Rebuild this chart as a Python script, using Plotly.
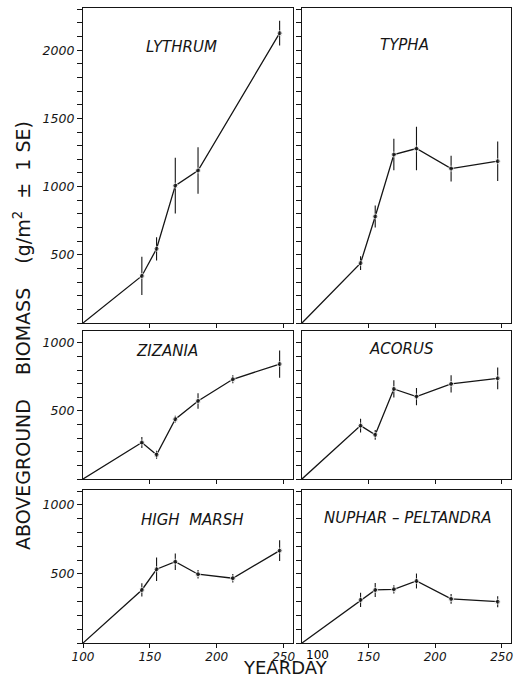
import plotly.graph_objects as go

W, H = 515, 680

# ---------------- data ----------------
days6 = [100, 144, 155, 169, 186, 212, 247]
days5 = [100, 144, 155, 169, 186, 247]

lythrum = [0, 345, 544, 1007, 1118, 2125]
lythrum_se = [0, 140, 85, 205, 170, 90]

typha = [0, 439, 781, 1235, 1279, 1132, 1186]
typha_se = [0, 50, 80, 115, 160, 95, 145]

zizania = [0, 268, 178, 439, 573, 732, 844]
zizania_se = [0, 40, 30, 25, 57, 30, 100]

acorus = [0, 392, 324, 661, 605, 698, 739]
acorus_se = [0, 50, 35, 63, 63, 63, 80]

high_marsh = [0, 384, 534, 589, 498, 469, 669]
high_marsh_se = [0, 48, 85, 60, 30, 30, 76]

nuphar = [0, 312, 384, 389, 449, 319, 299]
nuphar_se = [0, 52, 50, 30, 54, 35, 40]

panel_titles = ["LYTHRUM", "TYPHA", "ZIZANIA", "ACORUS",
                "HIGH\u00a0\u00a0MARSH", "NUPHAR\u00a0\u2013\u00a0PELTANDRA"]
x_tickvals_left = [100, 150, 200, 250]
x_ticktext_left = ["100", "150", "200", "250"]
x_tickvals_right = [150, 200, 250]
x_ticktext_right = ["150", "200", "250"]
x_start_text = "100"
y_tickvals_top = [500, 1000, 1500, 2000]
y_ticktext_top = ["500", "1000", "1500", "2000"]
y_tickvals_low = [500, 1000]
y_ticktext_low = ["500", "1000"]

series = [
    (days5, lythrum, lythrum_se),
    (days6, typha, typha_se),
    (days6, zizania, zizania_se),
    (days6, acorus, acorus_se),
    (days6, high_marsh, high_marsh_se),
    (days6, nuphar, nuphar_se),
]

# ---------------- layout geometry (pixels) ----------------
def px_x(p):
    return p / W

def px_y(p):
    return 1 - p / H

col_px = [(83, 293), (302, 511)]
row_px = [(7.5, 323), (330.5, 479), (490, 643)]
y_ranges = [[0, 2313], [0, 1090], [0, 1108]]
x_range = [100, 257]

INK = "#151515"
FONT = "DejaVu Sans"

fig = go.Figure()
layout = dict(
    width=W, height=H,
    margin=dict(l=0, r=0, t=0, b=0, autoexpand=False),
    paper_bgcolor="white", plot_bgcolor="white",
    showlegend=False,
    font=dict(family=FONT, color=INK),
)

title_pos = [(181, 47), (404, 45), (167, 351), (401, 349), (192, 520), (408, 518)]
annotations = []

for i, (xs, ys, se) in enumerate(series):
    k = i + 1
    r, c = divmod(i, 2)
    xa = "x" if k == 1 else f"x{k}"
    ya = "y" if k == 1 else f"y{k}"
    sizes = [0] + [5] * (len(xs) - 1)
    fig.add_trace(go.Scatter(
        x=xs, y=ys, xaxis=xa, yaxis=ya, mode="lines+markers",
        line=dict(color=INK, width=1.3),
        marker=dict(color=INK, size=sizes),
        error_y=dict(type="data", array=se, visible=True, color=INK,
                     thickness=1.1, width=0),
        cliponaxis=False, hoverinfo="skip",
    ))
    x0, x1 = col_px[c]
    y0, y1 = row_px[r]
    bottom = (r == 2)
    xkey = "xaxis" if k == 1 else f"xaxis{k}"
    ykey = "yaxis" if k == 1 else f"yaxis{k}"
    if bottom and c == 0:
        tv, tt = x_tickvals_left, x_ticktext_left
    else:
        tv, tt = x_tickvals_right, x_ticktext_right
    layout[xkey] = dict(
        domain=[px_x(x0), px_x(x1)], anchor=ya, range=x_range,
        automargin=False,
        tickmode="array", tickvals=tv, ticktext=tt,
        showticklabels=bottom, ticklabelstandoff=-2,
        ticks="outside", ticklen=4, tickwidth=1.1, tickcolor=INK,
        showline=True, mirror=True, linecolor=INK, linewidth=1.3,
        showgrid=False, zeroline=False,
        tickfont=dict(family=FONT, size=12, color=INK, style="italic"),
    )
    layout[ykey] = dict(
        domain=[px_y(y1), px_y(y0)], anchor=xa, range=y_ranges[r],
        automargin=False,
        tickmode="array",
        tickvals=y_tickvals_top if r == 0 else y_tickvals_low,
        ticktext=y_ticktext_top if r == 0 else y_ticktext_low,
        showticklabels=(c == 0),
        ticks="outside", ticklen=5, tickwidth=1.1, tickcolor=INK,
        minor=dict(tickmode="linear", tick0=0, dtick=100, ticks="outside",
                   ticklen=5, tickwidth=1.0, tickcolor=INK, showgrid=False),
        showline=True, mirror=True, linecolor=INK, linewidth=1.3,
        showgrid=False, zeroline=False,
        tickfont=dict(family=FONT, size=12.5, color=INK, style="italic"),
    )
    tx, ty = title_pos[i]
    annotations.append(dict(
        text=panel_titles[i], x=px_x(tx), y=px_y(ty), xref="paper", yref="paper",
        showarrow=False, xanchor="center", yanchor="middle",
        font=dict(family=FONT, size=15, color=INK, style="italic"),
    ))

annotations.append(dict(
    text="ABOVEGROUND\u00a0\u00a0\u00a0\u00a0BIOMASS\u00a0\u00a0\u00a0\u00a0(g/m<sup>2</sup>\u00a0\u00a0\u00b1\u00a0\u00a01\u00a0SE)",
    x=px_x(22), y=px_y(336), xref="paper", yref="paper", textangle=-90,
    showarrow=False, xanchor="center", yanchor="middle",
    font=dict(family=FONT, size=19, color=INK),
))
annotations.append(dict(
    text="YEARDAY", x=px_x(285), y=px_y(680), xref="paper", yref="paper",
    showarrow=False, xanchor="center", yanchor="bottom",
    font=dict(family=FONT, size=18, color=INK),
))
# "100" label at the start of the lower-right panel's axis, set just right of the corner
annotations.append(dict(
    text=x_start_text, x=px_x(304), xref="paper", y=px_y(655), yref="paper",
    showarrow=False, xanchor="left", yanchor="middle",
    font=dict(family=FONT, size=12, color="#000000"),
))
layout["annotations"] = annotations

fig.update_layout(**layout)
fig.write_html(
    "out.html",
    config={"displayModeBar": False},
    post_script="document.body.style.margin='0';document.body.style.overflow='hidden';",
)
